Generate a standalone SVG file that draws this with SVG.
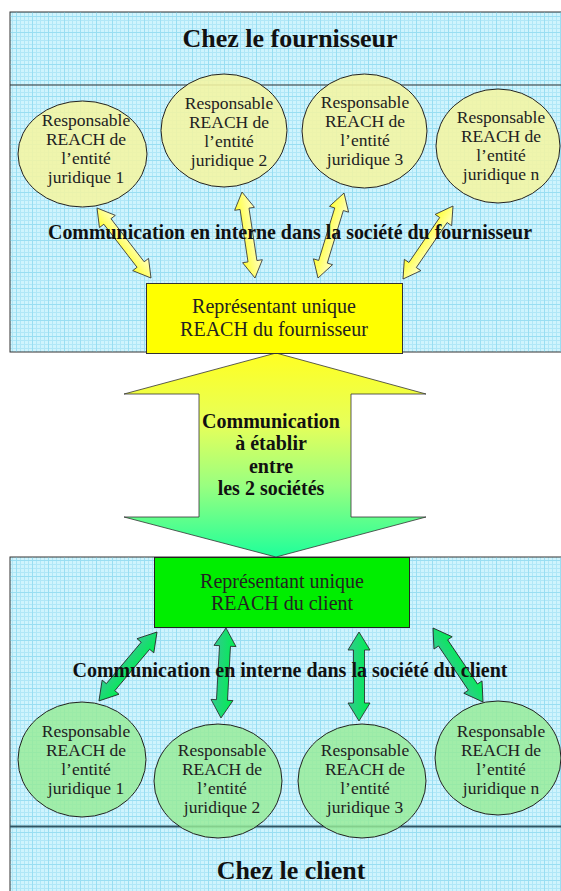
<svg xmlns="http://www.w3.org/2000/svg" width="561" height="891" viewBox="0 0 561 891">
  <defs>
    <!-- fine graph-paper fill used for both company panels -->
    <pattern id="gridFine" width="4" height="4" patternUnits="userSpaceOnUse">
      <rect width="4" height="4" fill="#cff4fd"/>
      <path d="M0 0.5H4M0.5 0V4" stroke="#b0e7f7" stroke-width="1"/>
    </pattern>
    <pattern id="gridMajor" width="16" height="16" patternUnits="userSpaceOnUse">
      <path d="M0 0.5H16M0.5 0V16" stroke="#8ad8ef" stroke-width="1" opacity="0.6"/>
    </pattern>
    <linearGradient id="bigArrowFill" x1="0" y1="353" x2="0" y2="557" gradientUnits="userSpaceOnUse">
      <stop offset="0" stop-color="#ffff22"/>
      <stop offset="0.35" stop-color="#e6ff5a"/>
      <stop offset="0.65" stop-color="#99ff80"/>
      <stop offset="1" stop-color="#1eff9a"/>
    </linearGradient>
    <linearGradient id="yellowArrowFill" x1="0" y1="0" x2="0" y2="1">
      <stop offset="0" stop-color="#ffffc8"/>
      <stop offset="1" stop-color="#ffff33"/>
    </linearGradient>
    <linearGradient id="greenArrowFill" x1="0" y1="0" x2="0" y2="1">
      <stop offset="0" stop-color="#00f050"/>
      <stop offset="1" stop-color="#33c990"/>
    </linearGradient>
    <style>
      .panel { fill: url(#gridFine); stroke: #333; stroke-width: 1; }
      .major { fill: url(#gridMajor); }
      .title { font-family: "Liberation Serif", "Times New Roman", serif; font-weight: bold; font-size: 26px; fill: #111; text-anchor: middle; }
      .band { font-family: "Liberation Serif", "Times New Roman", serif; font-weight: bold; font-size: 20px; fill: #111; text-anchor: middle; }
      .node { font-family: "Liberation Serif", "Times New Roman", serif; font-size: 17.5px; fill: #222; text-anchor: middle; }
      .box { font-family: "Liberation Serif", "Times New Roman", serif; font-size: 20px; fill: #222; text-anchor: middle; }
      .yell { fill: #f4f5a2; fill-opacity: 0.88; stroke: #222; stroke-width: 1; }
      .gell { fill: #96ec96; fill-opacity: 0.82; stroke: #222; stroke-width: 1; }
      .yarrow { fill: url(#yellowArrowFill); stroke: #333; stroke-width: 0.8; stroke-linejoin: miter; }
      .garrow { fill: url(#greenArrowFill); stroke: #222; stroke-width: 0.8; stroke-linejoin: miter; }
    </style>
  </defs>

  <rect width="561" height="891" fill="#ffffff"/>

  <!-- supplier panel -->
  <g id="supplier-panel">
    <rect class="panel" x="10" y="12" width="560" height="340"/>
    <rect class="major" x="10.5" y="12.5" width="559" height="339"/>
    <line x1="10" y1="85" x2="561" y2="85" stroke="#333" stroke-width="1.2"/>
    <text class="title" x="290" y="47">Chez le fournisseur</text>
  </g>

  <!-- client panel -->
  <g id="client-panel">
    <rect class="panel" x="10" y="557" width="560" height="340"/>
    <rect class="major" x="10.5" y="557.5" width="559" height="339"/>
    <line x1="10" y1="826.5" x2="561" y2="826.5" stroke="#2e5563" stroke-width="2"/>
    <text class="title" x="291" y="879">Chez le client</text>
  </g>

  <!-- connectors -->
  <g id="connectors">
    <!-- supplier side: double arrows between entity leads and the single representative -->
    <path class="yarrow" transform="translate(97,208) rotate(52.35)" d="M0 0L17 -10L17 -4.5L71.4 -4.5L71.4 -10L88.4 0L71.4 10L71.4 4.5L17 4.5L17 10Z"/>
    <path class="yarrow" transform="translate(242,192) rotate(81.4)" d="M0 0L17 -10L17 -4.5L70 -4.5L70 -10L87 0L70 10L70 4.5L17 4.5L17 10Z"/>
    <path class="yarrow" transform="translate(344,193) rotate(107)" d="M0 0L17 -10L17 -4.5L71.9 -4.5L71.9 -10L88.9 0L71.9 10L71.9 4.5L17 4.5L17 10Z"/>
    <path class="yarrow" transform="translate(453,206) rotate(124.4)" d="M0 0L17 -10L17 -4.5L71.5 -4.5L71.5 -10L88.5 0L71.5 10L71.5 4.5L17 4.5L17 10Z"/>

    <!-- exchange between the two companies -->
    <path id="exchange-arrow" d="M276 353L426 394L351 394L351 517L426 517L276 557L124 517L199 517L199 394L124 394Z" fill="url(#bigArrowFill)" stroke="#333" stroke-width="0.8"/>

    <!-- client side -->
    <path class="garrow" transform="translate(157,632) rotate(130.1)" d="M0 0L18 -11L18 -5.5L72.1 -5.5L72.1 -11L90.1 0L72.1 11L72.1 5.5L18 5.5L18 11Z"/>
    <path class="garrow" transform="translate(226,628) rotate(93.2)" d="M0 0L18 -11L18 -5.5L72.1 -5.5L72.1 -11L90.1 0L72.1 11L72.1 5.5L18 5.5L18 11Z"/>
    <path class="garrow" transform="translate(359,632) rotate(90)" d="M0 0L18 -11L18 -5.5L71 -5.5L71 -11L89 0L71 11L71 5.5L18 5.5L18 11Z"/>
    <path class="garrow" transform="translate(433,628) rotate(55.95)" d="M0 0L18 -11L18 -5.5L71.3 -5.5L71.3 -11L89.3 0L71.3 11L71.3 5.5L18 5.5L18 11Z"/>
  </g>

  <!-- band labels, drawn over the arrows -->
  <text class="band" x="290" y="239" textLength="484" lengthAdjust="spacingAndGlyphs">Communication en interne dans la société du fournisseur</text>
  <text class="band" x="290" y="677" textLength="435" lengthAdjust="spacingAndGlyphs">Communication en interne dans la société du client</text>

  <!-- exchange label -->
  <g id="exchange-label">
    <text class="band" x="271" y="428">Communication</text>
    <text class="band" x="271" y="450">à établir</text>
    <text class="band" x="271" y="473">entre</text>
    <text class="band" x="271" y="495">les 2 sociétés</text>
  </g>

  <!-- supplier entities -->
  <g id="sup-entity-1">
    <ellipse class="yell" cx="82.5" cy="154" rx="64.5" ry="53"/>
    <text class="node" x="86" y="126">Responsable</text>
    <text class="node" x="86" y="145">REACH de</text>
    <text class="node" x="86" y="164">l’entité</text>
    <text class="node" x="86" y="183">juridique 1</text>
  </g>
  <g id="sup-entity-2">
    <ellipse class="yell" cx="224" cy="130.5" rx="63" ry="56.5"/>
    <text class="node" x="229" y="109">Responsable</text>
    <text class="node" x="229" y="128">REACH de</text>
    <text class="node" x="229" y="147">l’entité</text>
    <text class="node" x="229" y="166">juridique 2</text>
  </g>
  <g id="sup-entity-3">
    <ellipse class="yell" cx="364.5" cy="131" rx="62.5" ry="57"/>
    <text class="node" x="365" y="108">Responsable</text>
    <text class="node" x="365" y="127">REACH de</text>
    <text class="node" x="365" y="146">l’entité</text>
    <text class="node" x="365" y="165">juridique 3</text>
  </g>
  <g id="sup-entity-n">
    <ellipse class="yell" cx="498" cy="146" rx="62" ry="57"/>
    <text class="node" x="501" y="123">Responsable</text>
    <text class="node" x="501" y="142">REACH de</text>
    <text class="node" x="501" y="161">l’entité</text>
    <text class="node" x="501" y="180">juridique n</text>
  </g>

  <!-- supplier single representative -->
  <g id="sup-representative">
    <rect x="146.5" y="283.5" width="256" height="70" fill="#ffff00" stroke="#333" stroke-width="1"/>
    <text class="box" x="274" y="313">Représentant unique</text>
    <text class="box" x="274" y="336">REACH du fournisseur</text>
  </g>

  <!-- client single representative -->
  <g id="cli-representative">
    <rect x="154.5" y="557.5" width="255" height="70" fill="#00ee00" stroke="#222" stroke-width="1"/>
    <text class="box" x="282" y="588">Représentant unique</text>
    <text class="box" x="282" y="610">REACH du client</text>
  </g>

  <!-- client entities -->
  <g id="cli-entity-1">
    <ellipse class="gell" cx="82" cy="759.5" rx="64" ry="57.5"/>
    <text class="node" x="86" y="737">Responsable</text>
    <text class="node" x="86" y="756">REACH de</text>
    <text class="node" x="86" y="775">l’entité</text>
    <text class="node" x="86" y="794">juridique 1</text>
  </g>
  <g id="cli-entity-2">
    <ellipse class="gell" cx="218" cy="781" rx="64" ry="57"/>
    <text class="node" x="222" y="756">Responsable</text>
    <text class="node" x="222" y="775">REACH de</text>
    <text class="node" x="222" y="794">l’entité</text>
    <text class="node" x="222" y="813">juridique 2</text>
  </g>
  <g id="cli-entity-3">
    <ellipse class="gell" cx="362" cy="781" rx="64" ry="57"/>
    <text class="node" x="365" y="756">Responsable</text>
    <text class="node" x="365" y="775">REACH de</text>
    <text class="node" x="365" y="794">l’entité</text>
    <text class="node" x="365" y="813">juridique 3</text>
  </g>
  <g id="cli-entity-n">
    <ellipse class="gell" cx="498" cy="758" rx="63" ry="57"/>
    <text class="node" x="501" y="737">Responsable</text>
    <text class="node" x="501" y="756">REACH de</text>
    <text class="node" x="501" y="775">l’entité</text>
    <text class="node" x="501" y="794">juridique n</text>
  </g>
</svg>
